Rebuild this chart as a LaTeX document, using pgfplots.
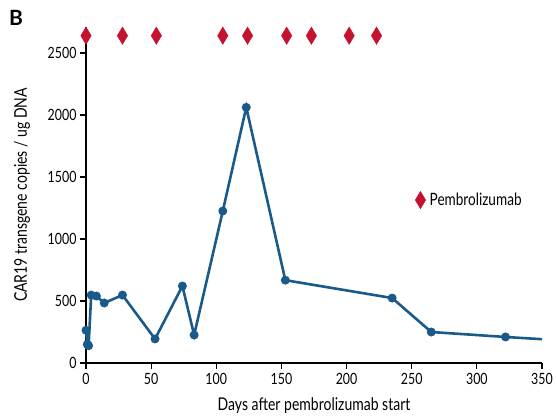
\documentclass[border=0pt]{standalone}
\usepackage{pgfplots}
\pgfplotsset{compat=1.18}
\usepackage{fontspec}
\setmainfont[FakeStretch=0.8]{Lato}
\newfontfamily\plainfont{Lato}
\definecolor{lineblue}{HTML}{1A5A8A}
\definecolor{diamred}{HTML}{C41230}
\begin{document}
\begin{tikzpicture}
\begin{axis}[
  scale only axis, width=456pt, height=336pt,
  xmin=0, xmax=350, ymin=0, ymax=2710,
  axis x line*=bottom, axis y line*=left,
  axis line style={line width=1.4pt, -},
  xtick={0,50,...,350}, ytick={0,500,...,2500},
  tick align=outside, major tick length=6pt,
  tick style={line width=1.2pt, black},
  /pgf/number format/assume math mode=true,
  /pgf/number format/1000 sep={},
  ticklabel style={font=\fontsize{15.5}{17}\selectfont},
  xticklabel style={yshift=-1pt},
  xlabel={Days after pembrolizumab start},
  ylabel={CAR19 transgene copies / ug DNA},
  label style={font=\fontsize{17.5}{19}\selectfont},
  xlabel style={at={(axis description cs:0.5,0)}, anchor=center, yshift=-43pt},
  ylabel style={at={(axis description cs:0,0.5)}, anchor=center, yshift=64pt},
  clip=false,
  legend style={draw=none, fill=none, at={(0.715,0.485)}, anchor=west, font=\fontsize{17}{19}\selectfont,
    nodes={inner xsep=4pt}},
  legend cell align=left,
  legend image code/.code={\draw[#1] plot coordinates {(0.3cm,0cm)};},
]
\addplot[lineblue, line width=2.6pt, mark=*, mark size=3.1pt, forget plot] coordinates {
(0,264) (1,150) (2,140) (4,548) (8,540) (14,484) (28,548) (53,194) (74,621) (83,226) (105,1226) (123,2062) (153,668) (235,524) (265,250) (322,210)
};
\addplot[lineblue, line width=2.6pt, forget plot] coordinates {(322,210) (350,192)};
\addplot[only marks, mark=diamond*, mark size=8.7pt, mark options={diamred, fill=diamred, xscale=0.8}, color=diamred] coordinates {
(0,2640) (28,2640) (54,2640) (105,2640) (124,2640) (154,2640) (173,2640) (202,2640) (223,2640)
};
\addlegendentry{Pembrolizumab}
\node[font=\plainfont\bfseries\fontsize{21}{23}\selectfont, anchor=center] at (rel axis cs:-0.1535,1.027) {B};
\coordinate (bbbl) at (rel axis cs:-0.1886,-0.1637);
\coordinate (bbtr) at (rel axis cs:1.0329,1.0804);
\end{axis}
\pgfresetboundingbox
\path[use as bounding box] (bbbl) rectangle (bbtr);
\end{tikzpicture}
\end{document}
